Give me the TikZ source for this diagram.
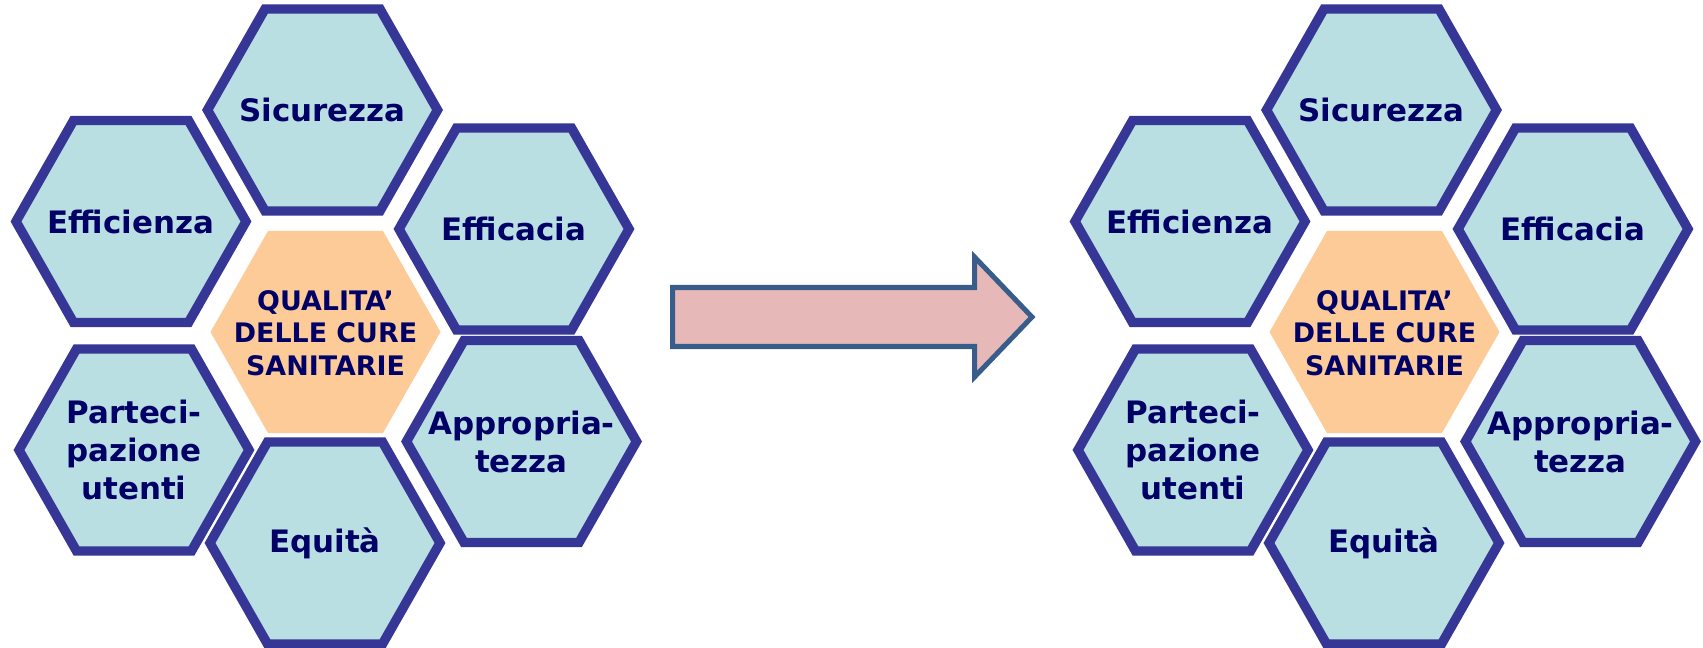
\documentclass[tikz,border=0pt]{standalone}
\usepackage{fontspec}
\setmainfont{DejaVu Sans}
\usepackage{tikz}
\usetikzlibrary{calc}
\definecolor{hexborder}{RGB}{54,54,150}
\definecolor{hexfill}{RGB}{185,223,227}
\definecolor{corefill}{RGB}{253,203,152}
\definecolor{hextext}{RGB}{0,0,102}
\definecolor{arrowfill}{RGB}{230,185,184}
\definecolor{arrowline}{RGB}{56,93,138}
\tikzset{
  pics/hexcell/.style={code={\path[pic actions] (-115,0) -- (-57.5,-101) -- (57.5,-101) -- (115,0) -- (57.5,101) -- (-57.5,101) -- cycle;}},
  outer hex/.style={draw=hexborder, fill=hexfill, line width=5.4pt},
  core hex/.style={fill=corefill},
  hex label/.style={font=\bfseries\fontsize{17.6}{21.6}\selectfont, text=hextext, align=center, inner sep=0pt},
  core label/.style={hex label, font=\bfseries\fontsize{15.3}{18.5}\selectfont},
}

\begin{document}
\begin{tikzpicture}[x=0.02cm, y=-0.02cm]
\useasboundingbox (0,0) rectangle (1703,648);

\foreach \dx/\s in {0/L,1059/R}
{
  \pic[core hex] at (325.5+\dx,332) {hexcell};
  \node[core label] (core\s) at (325.5+\dx,333) {QUALITA’\\DELLE CURE\\SANITARIE};
  \foreach \n/\x/\y/\txt in {sic/322.5/110/Sicurezza, eff/131/221.5/Efficienza, efc/514/229/Efficacia, par/134/450/{Parteci-\\pazione\\utenti}, app/521.5/441.5/{Appropria-\\tezza}, equ/325/543/Equità}
  {
    \pic[outer hex] at (\x+\dx,\y) {hexcell};
    \node[hex label] (\n\s) at (\x+\dx,\y) {\txt};
  }
}

% block arrow between the two clusters
\draw[line width=2.85pt, draw=arrowline, fill=arrowfill] (672.5,287.5) -- (974.5,287.5) -- (974.5,257) -- (1032,317) -- (974.5,377) -- (974.5,346.5) -- (672.5,346.5) -- cycle;

\end{tikzpicture}
\end{document}
